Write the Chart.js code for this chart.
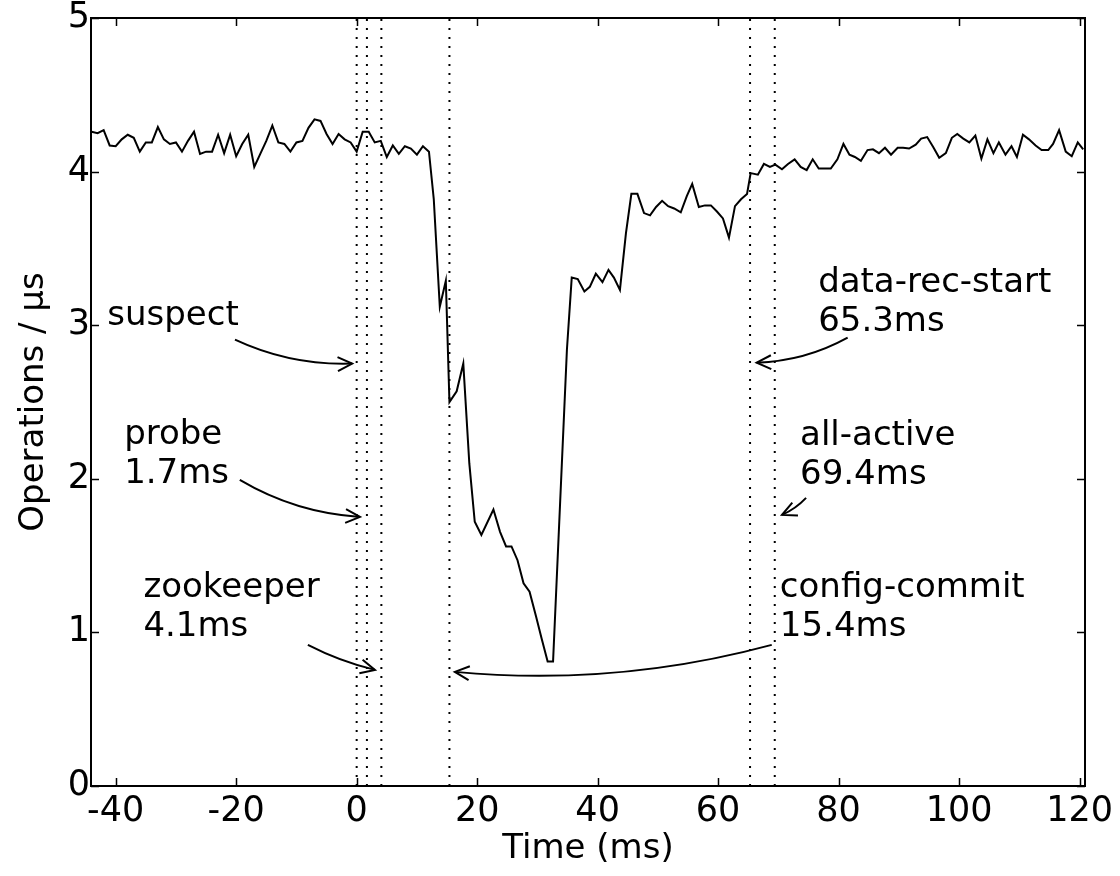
<!DOCTYPE html>
<html>
<head>
<meta charset="utf-8">
<script src="https://cdn.jsdelivr.net/npm/chart.js@4.4.1/dist/chart.umd.min.js"></script>
<style>
  html, body { margin: 0; padding: 0; background: #fff; }
  #wrap { width: 1120px; height: 876px; }
</style>
</head>
<body>
<div id="wrap"><canvas id="opsChart" width="1120" height="876"></canvas></div>
<script>
// throughput samples (time in ms, ops per microsecond)
const times = [
  -44, -43, -42, -41, -40, -39, -38, -37, -36, -35, -34, -33, -32, -31, -30,
  -29, -28, -27, -26, -25, -24, -23, -22, -21, -20, -19, -18, -17, -16, -15,
  -14, -13, -12, -11, -10, -9, -8, -7, -6, -5, -4, -3, -2, -1, 0,
  1, 2, 3, 4, 5, 6, 7, 8, 9, 10, 11, 12,
  12.8, 13.8, 14.8, 15.4, 16.6, 17.7, 18.7, 19.6, 20.7, 22.7, 23.8, 24.8, 25.7,
  26.7, 27.7, 28.7, 29.8, 30.7, 31.7, 32.6, 34.9, 35.7, 36.7, 37.8, 38.7, 39.7,
  40.8, 41.8, 42.7, 43.7, 44.7, 45.6, 46.6, 47.7, 48.7, 49.7, 50.7, 51.7, 52.7,
  53.8, 54.8, 55.7, 56.8, 57.8, 58.8, 59.8, 60.8, 61.8, 62.8, 63.8, 64.8, 65.4,
  66.6, 67.6, 68.6, 69.5, 70.6, 71.6, 72.7, 73.7, 74.7, 75.7, 76.7, 77.7, 78.7,
  79.8, 80.8, 81.8, 82.7, 83.7, 84.8, 85.7, 86.7, 87.7, 88.7, 89.8, 90.7, 91.7,
  92.8, 93.7, 94.7, 95.7, 96.7, 97.8, 98.8, 99.7, 100.7, 101.7, 102.7, 103.7, 104.7,
  105.7, 106.6, 107.7, 108.7, 109.6, 110.6, 111.6, 112.7, 113.7, 114.8, 115.6, 116.6,
  117.7, 118.7, 119.7, 120.6
];
const ops = [
  4.26, 4.25, 4.27, 4.17, 4.165, 4.21, 4.24, 4.22, 4.13, 4.19, 4.19, 4.29, 4.21, 4.18, 4.19,
  4.13, 4.20, 4.26, 4.115, 4.13, 4.13, 4.24, 4.12, 4.24, 4.10, 4.18, 4.24, 4.03, 4.115, 4.20,
  4.30, 4.19, 4.18, 4.13, 4.19, 4.20, 4.285, 4.34, 4.33, 4.245, 4.18, 4.245, 4.21, 4.19, 4.13,
  4.26, 4.26, 4.19, 4.20, 4.095, 4.17, 4.115, 4.165, 4.15, 4.11, 4.165, 4.13,
  3.82, 3.12, 3.29, 2.50, 2.57, 2.75, 2.10, 1.72, 1.635, 1.80, 1.655, 1.56, 1.56,
  1.47, 1.32, 1.265, 1.10, 0.96, 0.81, 0.81, 2.84, 3.31, 3.30, 3.22, 3.25, 3.335,
  3.28, 3.36, 3.31, 3.23, 3.60, 3.855, 3.855, 3.73, 3.715, 3.77, 3.81, 3.775, 3.76,
  3.735, 3.84, 3.92, 3.77, 3.78, 3.78, 3.74, 3.695, 3.57, 3.775, 3.82, 3.855, 3.99,
  3.98, 4.05, 4.03, 4.045, 4.015, 4.05, 4.08, 4.03, 4.01, 4.08, 4.02, 4.02, 4.02,
  4.08, 4.18, 4.11, 4.095, 4.07, 4.14, 4.145, 4.12, 4.155, 4.11, 4.155, 4.155, 4.15,
  4.175, 4.215, 4.225, 4.16, 4.09, 4.12, 4.22, 4.245, 4.215, 4.19, 4.235, 4.085, 4.21,
  4.12, 4.19, 4.11, 4.165, 4.095, 4.24, 4.21, 4.17, 4.14, 4.14, 4.18, 4.27,
  4.13, 4.10, 4.19, 4.145
];

// event times marked with dotted lines
const markerTimes = [0, 1.7, 4.1, 15.4, 65.3, 69.4];

const xTicks = [-40, -20, 0, 20, 40, 60, 80, 100, 120];
const yTicks = [0, 1, 2, 3, 4, 5];

// labels with arrows: text anchor (first baseline), arrow start, arrow tip, curvature
const notes = [
  { lines: ['suspect'], at: [-41.4, 3.0], from: [-20.2, 2.906], to: [-0.75, 2.75], rad: 0.12 },
  { lines: ['probe', '1.7ms'], at: [-38.6, 2.228], from: [-19.4, 1.993], to: [0.55, 1.752], rad: 0.12 },
  { lines: ['zookeeper', '4.1ms'], at: [-35.4, 1.231], from: [-8.1, 0.919], to: [3.04, 0.756], rad: 0.06 },
  { lines: ['data-rec-start', '65.3ms'], at: [76.6, 3.218], from: [81.5, 2.919], to: [66.4, 2.756], rad: -0.12 },
  { lines: ['all-active', '69.4ms'], at: [73.6, 2.221], from: [74.6, 1.876], to: [70.6, 1.765], rad: -0.1 },
  { lines: ['config-commit', '15.4ms'], at: [70.25, 1.231], from: [68.9, 0.919], to: [16.3, 0.743], rad: -0.09 }
];

const FONT = '"DejaVu Sans", sans-serif';

function drawArrow(ctx, x1, y1, x2, y2, rad) {
  const mx = (x1 + x2) / 2, my = (y1 + y2) / 2;
  const dx = x2 - x1, dy = y2 - y1;
  const cx = mx - rad * dy, cy = my + rad * dx;
  ctx.beginPath();
  ctx.moveTo(x1, y1);
  ctx.quadraticCurveTo(cx, cy, x2, y2);
  ctx.stroke();
  const a = Math.atan2(y2 - cy, x2 - cx);
  const len = 16, spread = 0.45;
  ctx.beginPath();
  ctx.moveTo(x2 - len * Math.cos(a - spread), y2 - len * Math.sin(a - spread));
  ctx.lineTo(x2, y2);
  ctx.lineTo(x2 - len * Math.cos(a + spread), y2 - len * Math.sin(a + spread));
  ctx.stroke();
}

// frame, inward ticks, axis titles and the arrow labels
const decorations = {
  id: 'decorations',
  afterDraw(chart) {
    const ctx = chart.ctx;
    const { left, right, top, bottom } = chart.chartArea;
    const xs = chart.scales.x, ys = chart.scales.y;
    ctx.save();
    ctx.strokeStyle = '#000';
    ctx.lineWidth = 2;
    ctx.strokeRect(left, top, right - left, bottom - top);

    const tick = 8;
    ctx.beginPath();
    xTicks.forEach(v => {
      const px = Math.round(xs.getPixelForValue(v)) + 0.5;
      ctx.moveTo(px, bottom); ctx.lineTo(px, bottom - tick);
      ctx.moveTo(px, top); ctx.lineTo(px, top + tick);
    });
    yTicks.forEach(v => {
      const py = Math.round(ys.getPixelForValue(v)) + 0.5;
      ctx.moveTo(left, py); ctx.lineTo(left + tick, py);
      ctx.moveTo(right, py); ctx.lineTo(right - tick, py);
    });
    ctx.lineWidth = 1.5;
    ctx.stroke();

    ctx.fillStyle = '#000';
    ctx.font = '34px ' + FONT;
    ctx.textAlign = 'center';
    ctx.textBaseline = 'alphabetic';
    ctx.fillText('Time (ms)', (left + right) / 2, 858);

    ctx.save();
    ctx.translate(43, (top + bottom) / 2);
    ctx.rotate(-Math.PI / 2);
    ctx.fillText('Operations / μs', 0, 0);
    ctx.restore();

    ctx.textAlign = 'left';
    ctx.lineWidth = 2;
    notes.forEach(n => {
      const tx = xs.getPixelForValue(n.at[0]);
      const ty = ys.getPixelForValue(n.at[1]);
      n.lines.forEach((s, i) => ctx.fillText(s, tx, ty + i * 39));
      drawArrow(ctx,
        xs.getPixelForValue(n.from[0]), ys.getPixelForValue(n.from[1]),
        xs.getPixelForValue(n.to[0]), ys.getPixelForValue(n.to[1]), n.rad);
    });
    ctx.restore();
  }
};

const seriesData = times.map((t, i) => ({ x: t, y: ops[i] }));
const markerSets = markerTimes.map(t => ({
  data: [{ x: t, y: 0 }, { x: t, y: 5 }],
  borderColor: '#000',
  borderWidth: 2,
  borderDash: [2, 7],
  pointRadius: 0,
  fill: false
}));

new Chart(document.getElementById('opsChart').getContext('2d'), {
  type: 'line',
  data: {
    datasets: [
      { data: seriesData, borderColor: '#000', borderWidth: 2, pointRadius: 0, tension: 0, fill: false },
      ...markerSets
    ]
  },
  options: {
    responsive: false,
    animation: false,
    events: [],
    layout: { padding: { left: 0, right: 35, top: 18, bottom: 0 } },
    plugins: { legend: { display: false }, tooltip: { enabled: false } },
    scales: {
      x: {
        type: 'linear',
        min: -44.1,
        max: 120.9,
        afterBuildTicks: axis => { axis.ticks = xTicks.map(v => ({ value: v })); },
        afterFit: axis => { axis.height = 90; axis.paddingLeft = 0; axis.paddingRight = 0; },
        grid: { display: false, drawTicks: false },
        border: { display: false },
        ticks: { color: '#000', font: { family: FONT, size: 35 }, padding: 5, maxRotation: 0 }
      },
      y: {
        type: 'linear',
        min: 0,
        max: 5,
        afterBuildTicks: axis => { axis.ticks = yTicks.map(v => ({ value: v })); },
        afterFit: axis => { axis.width = 91; axis.paddingTop = 0; axis.paddingBottom = 0; },
        grid: { display: false, drawTicks: false },
        border: { display: false },
        ticks: { color: '#000', font: { family: FONT, size: 35 }, padding: 1 }
      }
    }
  },
  plugins: [decorations]
});
</script>
</body>
</html>
